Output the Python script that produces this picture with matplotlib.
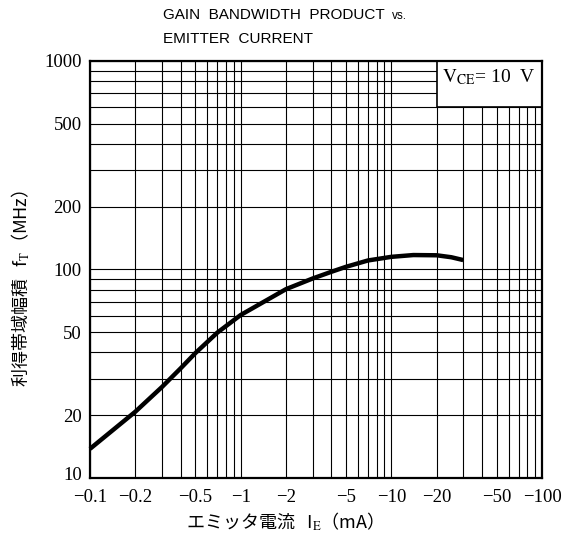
import matplotlib
matplotlib.use("Agg")
import matplotlib.pyplot as plt
from matplotlib.ticker import LogLocator, NullFormatter
from matplotlib.patches import Rectangle
import matplotlib.transforms as mtransforms
import numpy as np

# emitter current |IE| (mA) and gain bandwidth product fT (MHz)
ie_ma = [0.1, 0.2, 0.3, 0.4, 0.5, 0.7, 1, 1.5, 2, 3, 4, 5, 7, 10, 14, 20, 25, 30]
ft_mhz = [13.8, 20.8, 27.3, 33.6, 39.7, 49.8, 60.5, 71.5, 80.5, 90.5, 97.5,
          103.0, 110.5, 115.0, 117.3, 117.0, 114.5, 111.0]

xticks = [0.1, 0.2, 0.5, 1, 2, 5, 10, 20, 50, 100]
xlabels = ["−0.1", "−0.2", "−0.5", "−1", "−2", "−5", "−10", "−20", "−50", "−100"]
yticks = [10, 20, 50, 100, 200, 500, 1000]
ylabels = ["10", "20", "50", "100", "200", "500", "1000"]

plt.rcParams['mathtext.fontset'] = 'stix'
jp = ['Noto Sans CJK JP', 'DejaVu Sans']
serif = 'Liberation Serif'

fig = plt.figure(figsize=(5.63, 5.43), dpi=100)
ax = fig.add_axes([90/563, 1 - 478/543, 452/563, 417/543])
ax.set_xscale('log')
ax.set_yscale('log')
ax.set_xlim(0.1, 100)
ax.set_ylim(10, 1000)

ax.set_xticks(xticks)
ax.set_xticklabels(xlabels, fontfamily=serif, fontsize=13.5)
ax.set_yticks(yticks)
ax.set_yticklabels(ylabels, fontfamily=serif, fontsize=13.5)
for axis in (ax.xaxis, ax.yaxis):
    axis.set_minor_locator(LogLocator(base=10, subs=np.arange(2, 10), numticks=20))
    axis.set_minor_formatter(NullFormatter())
ax.tick_params(which='both', length=0)
ax.tick_params(axis='x', pad=8)
ax.tick_params(axis='y', pad=6)
# the bottom "10" sits a little above the corner, clear of "-0.1"
lab10 = ax.get_yticklabels()[0]
lab10.set_transform(lab10.get_transform() + mtransforms.ScaledTranslation(0, 3/72, fig.dpi_scale_trans))

ax.set_axisbelow(True)
ax.grid(which='both', color='black', lw=0.8)
for s in ax.spines.values():
    s.set_linewidth(1.6)

# condition box in the upper right corner
box = Rectangle((20, 600), 80, 400, facecolor='white', edgecolor='black', lw=1.2, zorder=1)
ax.add_patch(box)
ax.text(np.sqrt(20 * 100), np.sqrt(700 * 1000), r"$\mathrm{V_{CE}}$" + "= 10  V",
        fontfamily=serif, fontsize=14, ha='center', va='center', zorder=3)

ax.plot(ie_ma, ft_mhz, color='black', lw=3.2, solid_capstyle='butt',
        solid_joinstyle='round', zorder=4, clip_on=False)

# titles and axis labels
t1 = fig.text(163/563, 1 - 8/543, "GAIN  BANDWIDTH  PRODUCT", va='top', ha='left',
              fontsize=11, family='Liberation Sans')
fig.text(163/563, 1 - 32/543, "EMITTER  CURRENT", va='top', ha='left',
         fontsize=11, family='Liberation Sans')
fig.canvas.draw()
bb = t1.get_window_extent()
fig.text((bb.x1 + 7) / fig.bbox.width, bb.y0 / fig.bbox.height, "vs.", va='bottom',
         ha='left', fontsize=8.5, family='Liberation Sans')

fig.text(21/563, 1 - 288/543, "利得帯域幅積   f$_\\mathrm{T}$（MHz）", rotation=90,
         ha='center', va='center', fontsize=13, family=jp)
fig.text(280/563, 1 - 522/543, "エミッタ電流   I$_\\mathrm{E}$（mA）",
         ha='center', va='center', fontsize=13, family=jp)

fig.savefig("out.png", dpi=100)
